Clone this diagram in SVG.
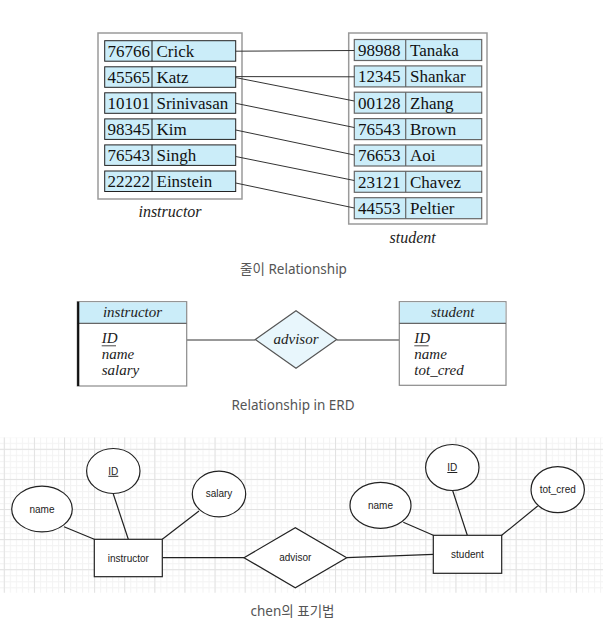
<svg xmlns="http://www.w3.org/2000/svg" width="603" height="630" viewBox="0 0 603 630">
<defs>
<pattern id="minor" patternUnits="userSpaceOnUse" x="3.8" y="448.8" width="6.022" height="6.022">
<path d="M0.5 0V6.022M0 0.5H6.022" stroke="#f3f3f3" stroke-width="1" fill="none"/>
</pattern>
<pattern id="major" patternUnits="userSpaceOnUse" x="3.8" y="448.8" width="30.11" height="30.11">
<path d="M0.5 0V30.11M0 0.5H30.11" stroke="#e2e2e2" stroke-width="1" fill="none"/>
</pattern>
</defs>
<style>
.outer{fill:#fff;stroke:#9a9a9a;stroke-width:1.5}
.rowI{fill:#cbedf9;stroke:#222;stroke-width:1}
.rowS{fill:#cbedf9;stroke:#666;stroke-width:1.2}
.tv{font-family:"Liberation Serif","DejaVu Serif",serif;font-size:17px;fill:#111}
.lbl{font-family:"Liberation Serif","DejaVu Serif",serif;font-size:16px;font-style:italic;fill:#222}
.cap{font-family:"Noto Sans","Noto Sans CJK KR",sans-serif;font-size:13.5px;fill:#555;text-anchor:middle}
.conn{stroke:#333;stroke-width:1;fill:none}
.ent{fill:#fff;stroke:#8a8a8a;stroke-width:1.2}
.hdr{fill:#cbedf9}
.it{font-family:"Liberation Serif","DejaVu Serif",serif;font-size:15px;font-style:italic;fill:#222}
.ch{fill:#fff;stroke:#222;stroke-width:1.2}
.ct{font-family:"Liberation Sans","Arial",sans-serif;font-size:10px;fill:#222;text-anchor:middle}
.cl{stroke:#222;stroke-width:1.2;fill:none}
</style>
<rect width="603" height="630" fill="#fff"/>

<!-- Section 1: tables -->
<g id="instructor-table">
<rect class="outer" x="98" y="33" width="144" height="166"/>
<g class="rowI">
<rect x="104.7" y="40.7" width="131" height="20.5"/><rect x="104.7" y="66.8" width="131" height="20.5"/><rect x="104.7" y="92.8" width="131" height="20.5"/><rect x="104.7" y="118.9" width="131" height="20.5"/><rect x="104.7" y="144.9" width="131" height="20.5"/><rect x="104.7" y="171" width="131" height="20.5"/>
</g>
<path d="M152 40.7v20.5M152 66.8v20.5M152 92.8v20.5M152 118.9v20.5M152 144.9v20.5M152 171v20.5" stroke="#222" stroke-width="1"/>
<g class="tv">
<text x="107.5" y="56.5">76766</text><text x="156.5" y="56.5">Crick</text>
<text x="107.5" y="82.6">45565</text><text x="156.5" y="82.6">Katz</text>
<text x="107.5" y="108.6">10101</text><text x="156.5" y="108.6">Srinivasan</text>
<text x="107.5" y="134.7">98345</text><text x="156.5" y="134.7">Kim</text>
<text x="107.5" y="160.7">76543</text><text x="156.5" y="160.7">Singh</text>
<text x="107.5" y="186.8">22222</text><text x="156.5" y="186.8">Einstein</text>
</g>
<text class="lbl" x="170" y="217" text-anchor="middle">instructor</text>
</g>

<g id="student-table">
<rect class="outer" x="348.7" y="33" width="138.3" height="191"/>
<g class="rowS">
<rect x="354.3" y="39.5" width="127.4" height="21"/><rect x="354.3" y="65.9" width="127.4" height="21"/><rect x="354.3" y="92.2" width="127.4" height="21"/><rect x="354.3" y="118.6" width="127.4" height="21"/><rect x="354.3" y="145" width="127.4" height="21"/><rect x="354.3" y="171.3" width="127.4" height="21"/><rect x="354.3" y="197.7" width="127.4" height="21"/>
</g>
<path d="M405.7 39.5v21M405.7 65.9v21M405.7 92.2v21M405.7 118.6v21M405.7 145v21M405.7 171.3v21M405.7 197.7v21" stroke="#666" stroke-width="1.2"/>
<g class="tv">
<text x="358" y="55.8">98988</text><text x="410" y="55.8">Tanaka</text>
<text x="358" y="82.2">12345</text><text x="410" y="82.2">Shankar</text>
<text x="358" y="108.5">00128</text><text x="410" y="108.5">Zhang</text>
<text x="358" y="134.9">76543</text><text x="410" y="134.9">Brown</text>
<text x="358" y="161.3">76653</text><text x="410" y="161.3">Aoi</text>
<text x="358" y="187.6">23121</text><text x="410" y="187.6">Chavez</text>
<text x="358" y="214">44553</text><text x="410" y="214">Peltier</text>
</g>
<text class="lbl" x="412.7" y="243" text-anchor="middle">student</text>
</g>

<g id="table-connectors">
<path class="conn" d="M235.7 51.2L354.3 50.5M235.7 76.6L354.3 76.8M235.7 77.6L354.3 101M235.7 103.3L354.3 127.5M235.7 130L354.3 155M235.7 156.5L354.3 180.5M235.7 183L354.3 208"/>
</g>
<text class="cap" x="293.5" y="274">줄이 Relationship</text>

<!-- Section 2: ERD -->
<g id="erd-connectors">
<path class="conn" d="M186.7 340H255.3M336.7 340H399.3" stroke="#444"/>
</g>
<g id="erd-instructor">
<rect class="ent" x="77.3" y="301.7" width="109.4" height="84.3"/>
<rect class="hdr" x="78" y="302.4" width="108" height="20.9"/>
<path d="M77.3 323.3H186.7" stroke="#666" stroke-width="1.2"/>
<path d="M78.2 301.7V386" stroke="#111" stroke-width="2.2"/>
<text class="it" x="132.5" y="317" text-anchor="middle">instructor</text>
<text class="it" x="101.7" y="343">ID</text>
<path d="M101.7 345.8H116" stroke="#333" stroke-width="0.9"/>
<text class="it" x="101.7" y="359">name</text>
<text class="it" x="101.7" y="374.5">salary</text>
</g>
<g id="erd-advisor">
<polygon points="255.3,339.5 296,310.7 336.7,339.5 296,368.3" fill="#e8f6fc" stroke="#555" stroke-width="1.2"/>
<text class="it" x="296" y="344" text-anchor="middle">advisor</text>
</g>
<g id="erd-student">
<rect class="ent" x="399.3" y="301.7" width="106.7" height="83.6"/>
<rect class="hdr" x="400" y="302.4" width="105.3" height="20.9"/>
<path d="M399.3 323.3H506" stroke="#666" stroke-width="1.2"/>
<text class="it" x="452.7" y="317" text-anchor="middle">student</text>
<text class="it" x="414.3" y="343">ID</text>
<path d="M414.3 345.8H428.6" stroke="#333" stroke-width="0.9"/>
<text class="it" x="414.3" y="359">name</text>
<text class="it" x="414.3" y="374.5">tot_cred</text>
</g>
<text class="cap" x="293" y="410">Relationship in ERD</text>

<!-- Section 3: Chen notation -->
<g id="grid">
<rect x="0" y="437.5" width="603" height="155.2" fill="url(#minor)"/>
<rect x="0" y="437.5" width="603" height="155.2" fill="url(#major)"/>
</g>
<g id="chen-connectors">
<path class="cl" d="M64 526.7L94.3 539.3M113.3 494L128.3 539.3M162.3 539.3L199 511M162.3 557.7H244M346.7 557.7L433.3 554.3M403.3 522.3L433.3 535.3M452.7 490.7L467.3 535.3M537.7 506L501.7 535.3"/>
</g>
<g id="chen-name-i">
<ellipse class="ch" cx="42" cy="509" rx="30.3" ry="22.8"/>
<text class="ct" x="42" y="512.5">name</text>
</g>
<g id="chen-id-i">
<ellipse class="ch" cx="113.3" cy="471" rx="26.7" ry="22.5"/>
<text class="ct" x="113.3" y="474.8" text-decoration="underline">ID</text>
</g>
<g id="chen-salary">
<ellipse class="ch" cx="219" cy="494" rx="26.7" ry="22.8"/>
<text class="ct" x="219" y="497">salary</text>
</g>
<g id="chen-instructor">
<rect class="ch" x="94.3" y="539.3" width="68" height="37.4"/>
<text class="ct" x="128.3" y="561.5">instructor</text>
</g>
<g id="chen-advisor">
<polygon class="ch" points="244,557.7 295.3,527.7 346.7,557.7 295.3,587.7"/>
<text class="ct" x="295.3" y="561.2">advisor</text>
</g>
<g id="chen-student">
<rect class="ch" x="433.3" y="535.3" width="68.4" height="38"/>
<text class="ct" x="467.5" y="557.5">student</text>
</g>
<g id="chen-name-s">
<ellipse class="ch" cx="380.5" cy="505.3" rx="30.5" ry="23"/>
<text class="ct" x="380.5" y="508.7">name</text>
</g>
<g id="chen-id-s">
<ellipse class="ch" cx="452.3" cy="467.5" rx="26.7" ry="23"/>
<text class="ct" x="452.3" y="471" text-decoration="underline">ID</text>
</g>
<g id="chen-totcred">
<ellipse class="ch" cx="557.7" cy="489.7" rx="26.7" ry="23"/>
<text class="ct" x="557.7" y="493.3">tot_cred</text>
</g>
<text class="cap" x="292.5" y="616">chen의 표기법</text>
</svg>
